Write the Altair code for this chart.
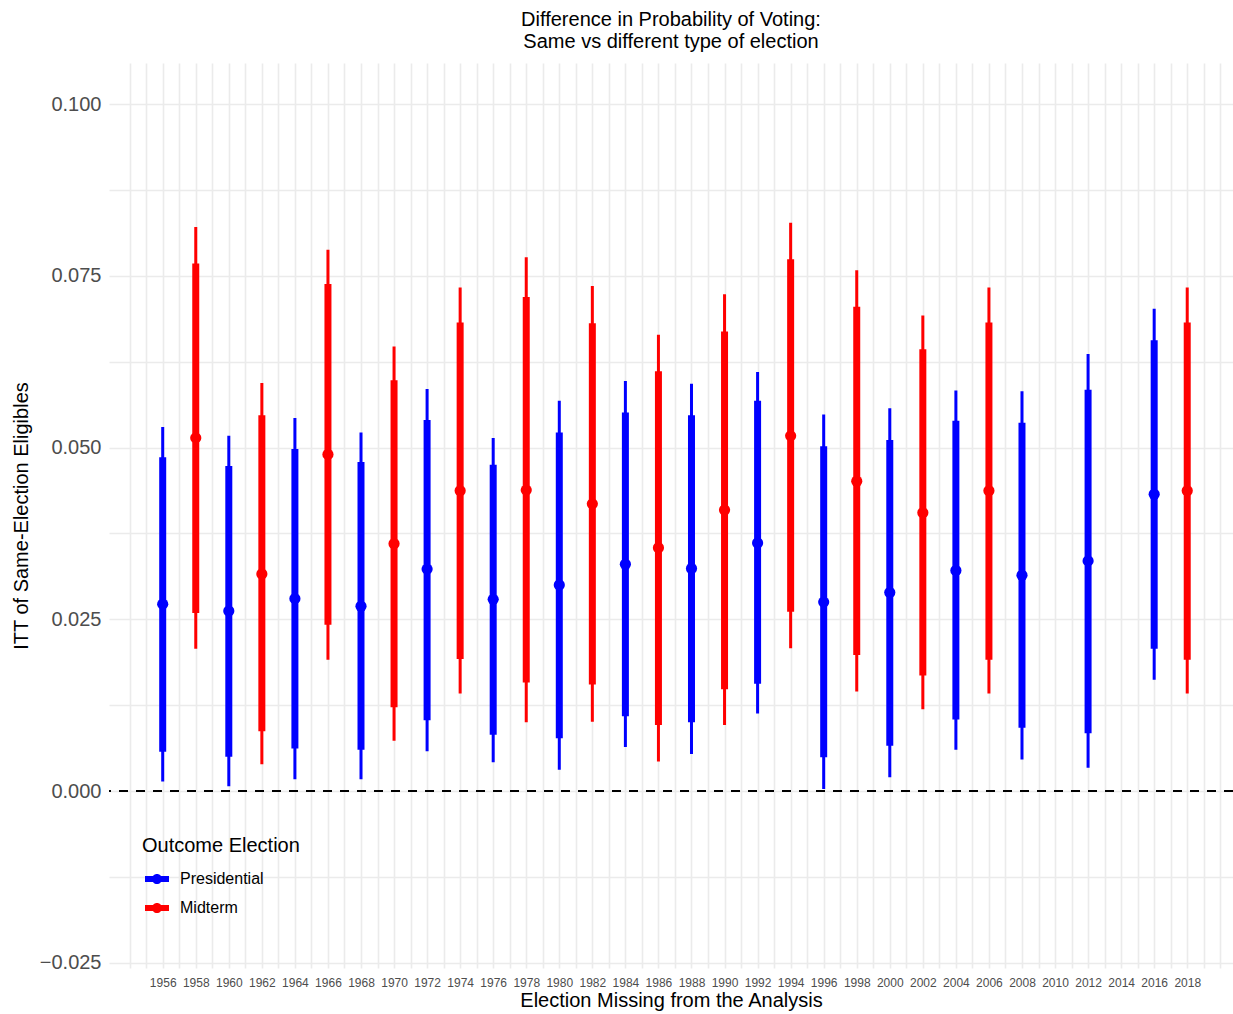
import altair as alt
import pandas as pd

# Election left out of the analysis, the outcome election type, and the ITT estimates
years = [1956, 1958, 1960, 1962, 1964, 1966, 1968, 1970, 1972, 1974,
         1976, 1978, 1980, 1982, 1984, 1986, 1988, 1990, 1992, 1994,
         1996, 1998, 2000, 2002, 2004, 2006, 2008, 2012, 2016, 2018]
outcome = ["Presidential", "Midterm", "Presidential", "Midterm", "Presidential",
           "Midterm", "Presidential", "Midterm", "Presidential", "Midterm",
           "Presidential", "Midterm", "Presidential", "Midterm", "Presidential",
           "Midterm", "Presidential", "Midterm", "Presidential", "Midterm",
           "Presidential", "Midterm", "Presidential", "Midterm", "Presidential",
           "Midterm", "Presidential", "Presidential", "Presidential", "Midterm"]
estimate = [0.0272, 0.0514, 0.0262, 0.0316, 0.0280, 0.0490, 0.0269, 0.0360, 0.0323, 0.0437,
            0.0279, 0.0438, 0.0300, 0.0418, 0.0330, 0.0354, 0.0324, 0.0409, 0.0361, 0.0517,
            0.0275, 0.0451, 0.0289, 0.0405, 0.0321, 0.0437, 0.0314, 0.0335, 0.0432, 0.0437]
# 95% interval (thin line)
lower95 = [0.0014, 0.0207, 0.0007, 0.0039, 0.0017, 0.0191, 0.0017, 0.0073, 0.0058, 0.0142,
           0.0042, 0.0100, 0.0031, 0.0101, 0.0064, 0.0043, 0.0054, 0.0096, 0.0113, 0.0208,
           0.0003, 0.0145, 0.0020, 0.0119, 0.0060, 0.0142, 0.0046, 0.0034, 0.0162, 0.0142]
upper95 = [0.0530, 0.0821, 0.0517, 0.0594, 0.0543, 0.0788, 0.0522, 0.0647, 0.0585, 0.0733,
           0.0514, 0.0777, 0.0568, 0.0735, 0.0597, 0.0664, 0.0593, 0.0723, 0.0610, 0.0827,
           0.0548, 0.0758, 0.0557, 0.0692, 0.0583, 0.0733, 0.0582, 0.0636, 0.0702, 0.0733]
# 90% interval (thick line)
lower90 = [0.0057, 0.0259, 0.0050, 0.0087, 0.0062, 0.0242, 0.0060, 0.0122, 0.0103, 0.0192,
           0.0082, 0.0158, 0.0077, 0.0155, 0.0109, 0.0096, 0.0100, 0.0148, 0.0156, 0.0261,
           0.0049, 0.0198, 0.0066, 0.0168, 0.0104, 0.0191, 0.0092, 0.0084, 0.0207, 0.0191]
upper90 = [0.0486, 0.0768, 0.0473, 0.0547, 0.0498, 0.0738, 0.0479, 0.0598, 0.0540, 0.0682,
           0.0475, 0.0719, 0.0522, 0.0681, 0.0551, 0.0611, 0.0547, 0.0669, 0.0568, 0.0774,
           0.0502, 0.0705, 0.0511, 0.0643, 0.0539, 0.0682, 0.0536, 0.0584, 0.0656, 0.0682]

df = pd.DataFrame({
    "year": years, "outcome": outcome, "estimate": estimate,
    "lower95": lower95, "upper95": upper95,
    "lower90": lower90, "upper90": upper90,
})
zero_df = pd.DataFrame({"y": [0.0]})

FONT = "Liberation Sans"
GRID = "#EBEBEB"

x_grid = list(range(1954, 2021))
y_grid = [-0.025, -0.0125, 0.0, 0.0125, 0.025, 0.0375, 0.05, 0.0625, 0.075, 0.0875, 0.1]

x_scale = alt.Scale(domain=[1952.75, 2020.77], nice=False, zero=False)
y_scale = alt.Scale(domain=[-0.02576, 0.10597], nice=False, zero=False)
color_scale = alt.Scale(domain=["Presidential", "Midterm"], range=["#0000FF", "#FF0000"])

x_axis = alt.Axis(
    values=x_grid,
    labelExpr="(datum.value % 2 == 0 && datum.value >= 1956 && datum.value <= 2018) ? '' + datum.value : ''",
    labelOverlap=False, labelFontSize=12, labelColor="#4D4D4D", labelFont=FONT,
    labelPadding=9, ticks=False, domain=False,
    grid=True, gridColor=GRID, gridWidth=1.6,
    title="Election Missing from the Analysis", titleFontSize=20,
    titleFontWeight="normal", titleFont=FONT, titleColor="black", titlePadding=2,
)
y_axis = alt.Axis(
    values=y_grid,
    labelExpr="abs(datum.value * 40 - round(datum.value * 40)) < 0.001 ? format(datum.value, '.3f') : ''",
    labelOverlap=False, labelFontSize=20, labelColor="#4D4D4D", labelFont=FONT,
    labelPadding=8, ticks=False, domain=False,
    grid=True, gridColor=GRID, gridWidth=1.6,
    title="ITT of Same-Election Eligibles", titleFontSize=20,
    titleFontWeight="normal", titleFont=FONT, titleColor="black", titlePadding=8,
)

key_shape = ("M-1,-0.25H1V0.25H-1Z "
             "M0.42,0A0.42,0.42 0 1,1 -0.42,0A0.42,0.42 0 1,1 0.42,0Z")

legend = alt.Legend(
    title="Outcome Election", orient="none", legendX=33, legendY=773,
    titleFontSize=20, titleFontWeight="normal", titleFont=FONT,
    titleColor="black", titlePadding=11,
    labelFontSize=16, labelFont=FONT, labelColor="black", labelOffset=11,
    symbolType=key_shape, symbolSize=576, symbolStrokeWidth=0,
    symbolOpacity=1, symbolOffset=3, rowPadding=9, padding=0,
)
color_enc = alt.Color("outcome:N", scale=color_scale, legend=legend)

base = alt.Chart(df)

zero_line = alt.Chart(zero_df).mark_rule(
    color="black", strokeWidth=2, strokeDash=[9, 8]
).encode(y=alt.Y("y:Q", scale=y_scale, axis=y_axis))

outer = base.mark_rule(strokeWidth=3).encode(
    x=alt.X("year:Q", scale=x_scale, axis=x_axis),
    y=alt.Y("lower95:Q", scale=y_scale, axis=y_axis),
    y2="upper95:Q",
    color=color_enc,
)

inner = base.mark_rule(strokeWidth=7).encode(
    x=alt.X("year:Q", scale=x_scale, axis=x_axis),
    y=alt.Y("lower90:Q", scale=y_scale, axis=y_axis),
    y2="upper90:Q",
    color=color_enc,
)

points = base.mark_point(filled=True, size=125, opacity=1).encode(
    x=alt.X("year:Q", scale=x_scale, axis=x_axis),
    y=alt.Y("estimate:Q", scale=y_scale, axis=y_axis),
    color=color_enc,
)

chart = alt.layer(zero_line, outer, inner, points).properties(
    width=1124, height=905,
    background="white",
    autosize=alt.AutoSizeParams(type="none"),
    padding={"left": 109, "top": 63, "right": 0, "bottom": 46},
    title=alt.TitleParams(
        ["Difference in Probability of Voting:", "\u00a0\u00a0Same vs different type of election"],
        fontSize=20, fontWeight="normal", font=FONT, color="black",
        anchor="middle", offset=11, lineHeight=22,
    ),
).configure_view(stroke=None)

chart.save("out.html", embed_options={"renderer": "svg", "actions": False})
